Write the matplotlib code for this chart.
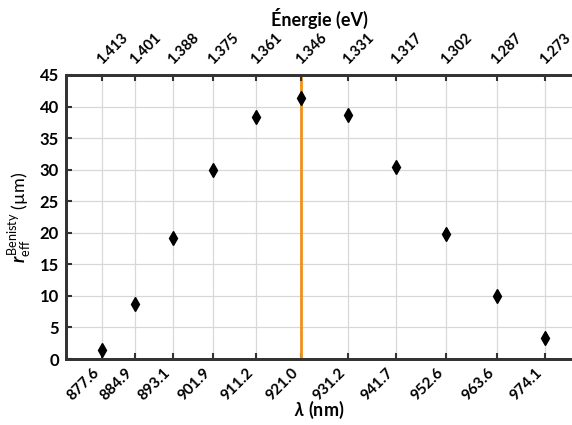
import numpy as np
import matplotlib
matplotlib.use("Agg")
import matplotlib.pyplot as plt
import matplotlib.transforms as mtransforms

plt.rcParams['font.family'] = ['Lato', 'DejaVu Sans']
plt.rcParams['mathtext.fontset'] = 'custom'
plt.rcParams['mathtext.rm'] = 'Lato'
plt.rcParams['mathtext.it'] = 'Lato:italic:bold'

# wavelengths (nm) and effective radius (um)
wavelengths = [877.6, 884.9, 893.1, 901.9, 911.2, 921.0, 931.2, 941.7, 952.6, 963.6, 974.1]
r_eff = [1.5, 8.7, 19.1, 30.0, 38.3, 41.4, 38.6, 30.5, 19.8, 10.0, 3.3]
energy_labels = ['1.413', '1.401', '1.388', '1.375', '1.361', '1.346',
                 '1.331', '1.317', '1.302', '1.287', '1.273']
peak_wl = 921.0

fig = plt.figure(figsize=(5.72, 4.25), dpi=100)
# axes run off the right edge of the picture (no right spine visible)
ax = fig.add_axes([66 / 572, 1 - 359 / 425, 506 / 572, 284 / 425])

ax.plot(wavelengths, r_eff, 'kd', markersize=7, zorder=3)
ax.axvline(peak_wl, color='#f0901e', linewidth=2, zorder=2)

ax.set_xlim(869.8, 980.0)
ax.set_ylim(0, 45)
ax.set_yticks(np.arange(0, 46, 5))
ax.set_xticks(wavelengths)
ax.set_xticklabels([f'{w:.1f}' for w in wavelengths])
shift_bot = mtransforms.ScaledTranslation(9 / 100, 0, fig.dpi_scale_trans)
for lab in ax.get_xticklabels():
    lab.set_rotation(45)
    lab.set_ha('right')
    lab.set_va('top')
    lab.set_fontweight('bold')
    lab.set_fontsize(11)
    lab.set_transform(lab.get_transform() + shift_bot)
for lab in ax.get_yticklabels():
    lab.set_fontweight('bold')
    lab.set_fontsize(12)
ax.grid(True, color='#d8d8d8', linewidth=0.9)
ax.set_axisbelow(True)
ax.tick_params(direction='in', length=4, width=1.5, color='#333333', pad=5)
for s in ax.spines.values():
    s.set_linewidth(2)
    s.set_color('#333333')
ax.spines['right'].set_visible(False)

ax.set_xlabel(r'$\lambda$ (nm)', fontsize=13, fontweight='bold', labelpad=-3)
ax.set_ylabel(r'$r_{\mathrm{eff}}^{\mathrm{Benisty}}$ (µm)', fontsize=13, labelpad=4)

top = ax.twiny()
top.set_xlim(ax.get_xlim())
top.set_xticks(wavelengths)
top.set_xticklabels(energy_labels)
top.tick_params(direction='in', length=4, width=1.5, color='#333333', pad=6)
shift_top = mtransforms.ScaledTranslation(-8 / 100, 0, fig.dpi_scale_trans)
for lab in top.get_xticklabels():
    lab.set_rotation(45)
    lab.set_ha('left')
    lab.set_va('bottom')
    lab.set_fontweight('bold')
    lab.set_fontsize(10.5)
    lab.set_transform(lab.get_transform() + shift_top)
top.set_xlabel('Énergie (eV)', fontsize=13, fontweight='bold', labelpad=3)
for s in top.spines.values():
    s.set_linewidth(2)
    s.set_color('#333333')
top.spines['right'].set_visible(False)

fig.savefig('out.png', dpi=100)
